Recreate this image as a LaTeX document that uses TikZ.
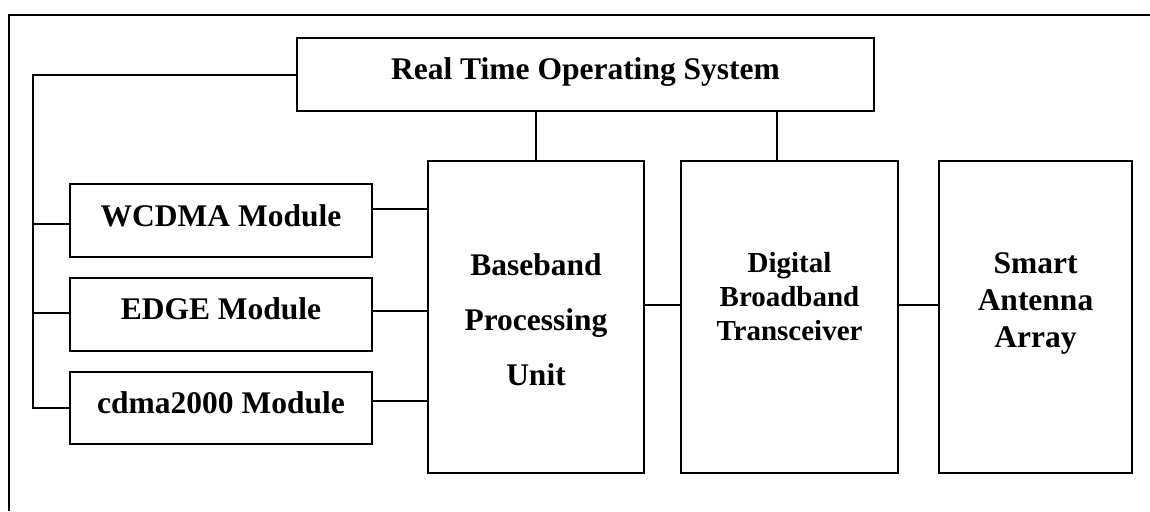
\documentclass[tikz,border=0pt]{standalone}
\usepackage{fontspec}
\setmainfont{Liberation Serif}
\usetikzlibrary{calc}

% bold label, raised relative to the box centre, first line as reference
\newcommand{\boxlabel}[4]{\raisebox{#1}[0pt][0pt]{\fontsize{#2}{#3}\selectfont\bfseries\begin{tabular}[t]{@{}c@{}}#4\end{tabular}}}

\tikzset{
  blk/.style={draw=black, line width=2pt, rectangle, inner sep=0pt, outer sep=0pt},
  link/.style={draw=black, line width=2pt},
  frame/.style={draw=black, line width=2pt},
}

\begin{document}
\begin{tikzpicture}[x=1pt, y=-1pt]
  \useasboundingbox (0,0) rectangle (1150,511);

  % open outer frame
  \draw[frame] (9,511) -- (9,15) -- (1150,15);

  % blocks
  \node[blk, minimum width=577pt, minimum height=73pt] (rtos) at (585.5,74.5)
    {\boxlabel{-4.5pt}{31.5pt}{36pt}{Real Time Operating System}};
  \node[blk, minimum width=302pt, minimum height=73pt] (wcdma) at (221,220.5)
    {\boxlabel{-5.5pt}{31.5pt}{36pt}{WCDMA Module}};
  \node[blk, minimum width=302pt, minimum height=73pt] (edgem) at (221,314.5)
    {\boxlabel{-4.5pt}{31.5pt}{36pt}{EDGE Module}};
  \node[blk, minimum width=302pt, minimum height=72pt] (cdma) at (221,408)
    {\boxlabel{-5pt}{31.5pt}{36pt}{cdma2000 Module}};
  \node[blk, minimum width=216pt, minimum height=312pt] (bpu) at (536,317)
    {\boxlabel{42pt}{31.5pt}{55pt}{Baseband\\Processing\\Unit}};
  \node[blk, minimum width=217pt, minimum height=312pt] (dbt) at (789.5,317)
    {\boxlabel{45pt}{29pt}{34pt}{Digital\\Broadband\\Transceiver}};
  \node[blk, minimum width=193pt, minimum height=312pt] (saa) at (1035.5,317)
    {\boxlabel{44pt}{31.5pt}{37pt}{Smart\\Antenna\\Array}};

  % control bus from the operating system to the modules
  \draw[link] (rtos.west) -| ([xshift=-37pt]cdma.west) -- (cdma.west);
  \coordinate (wl) at ([yshift=-3.5pt]wcdma.west);
  \coordinate (el) at ([yshift=1.5pt]edgem.west);
  \draw[link] (wl) -- ++(-37pt,0);
  \draw[link] (el) -- ++(-37pt,0);

  % modules to baseband unit
  \coordinate (wr) at ([yshift=11.5pt]wcdma.east);
  \coordinate (er) at ([yshift=3.5pt]edgem.east);
  \coordinate (cr) at ([yshift=7pt]cdma.east);
  \draw[link] (wr) -- (wr -| bpu.west);
  \draw[link] (er) -- (er -| bpu.west);
  \draw[link] (cr) -- (cr -| bpu.west);

  % operating system to processing blocks
  \draw[link] (bpu.north) -- (bpu.north |- rtos.south);
  \coordinate (dt) at ([xshift=-12.5pt]dbt.north);
  \draw[link] (dt) -- (dt |- rtos.south);

  % signal chain
  \coordinate (br) at ([yshift=12pt]bpu.east);
  \draw[link] (br) -- (br -| dbt.west);
  \coordinate (dr) at ([yshift=12pt]dbt.east);
  \draw[link] (dr) -- (dr -| saa.west);
\end{tikzpicture}
\end{document}
